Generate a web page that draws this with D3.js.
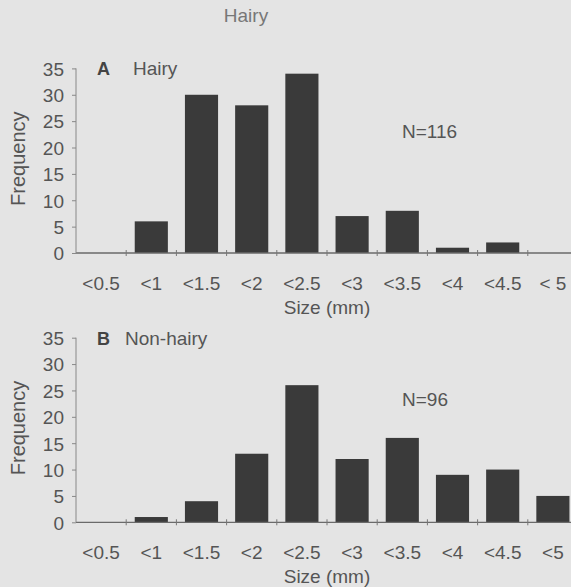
<!DOCTYPE html>
<html lang="en">
<head>
<meta charset="UTF-8">
<title>Hairy / Non-hairy size frequency</title>
<script src="https://d3js.org/d3.v7.min.js"></script>
<style>
  body { margin: 0; background: #e4e4e4; }
  svg { display: block; font-family: "Liberation Sans", Arial, sans-serif; }
  .tick-label { font-size: 19px; fill: #555; }
</style>
</head>
<body>
<div id="chart"></div>
<script>
// size classes (mm)
const sizeClasses = ["<0.5", "<1", "<1.5", "<2", "<2.5", "<3", "<3.5", "<4", "<4.5", "< 5"];
const sizeClassesB = ["<0.5", "<1", "<1.5", "<2", "<2.5", "<3", "<3.5", "<4", "<4.5", "<5"];
// frequencies
const hairyFreq = [0, 6, 30, 28, 34, 7, 8, 1, 2, 0];
const nonHairyFreq = [0, 1, 4, 13, 26, 12, 16, 9, 10, 5];
const yTicks = [0, 5, 10, 15, 20, 25, 30, 35];

const width = 571, height = 587;
const svg = d3.select("#chart").append("svg")
  .attr("width", width).attr("height", height);

svg.append("rect").attr("width", width).attr("height", height).attr("fill", "#e4e4e4");

// top title
svg.append("text")
  .attr("x", 246).attr("y", 22)
  .attr("text-anchor", "middle")
  .style("font-size", "19px").style("fill", "#777")
  .text("Hairy");

function drawPanel(cats, values, y0, letter, name, nText, nY) {
  const x = d3.scaleBand()
    .domain(cats)
    .range([76, 578])
    .paddingInner(0.34)
    .paddingOuter(0.17);
  const y = d3.scaleLinear().domain([0, 35]).range([y0, y0 - 184.6]);
  const g = svg.append("g");

  // bars
  g.selectAll("rect.bar")
    .data(values)
    .enter().append("rect")
    .attr("class", "bar")
    .attr("x", (d, i) => x(cats[i]))
    .attr("width", x.bandwidth())
    .attr("y", d => y(d))
    .attr("height", d => y(0) - y(d))
    .attr("fill", "#3a3a3a");

  // x axis line with boundary ticks
  g.append("line")
    .attr("x1", 76).attr("x2", 571)
    .attr("y1", y(0)).attr("y2", y(0))
    .attr("stroke", "#6a6a6a").attr("stroke-width", 1.3);
  const step = x.step();
  g.selectAll("line.xt")
    .data(d3.range(1, 10))
    .enter().append("line")
    .attr("class", "xt")
    .attr("x1", i => 76 + i * step).attr("x2", i => 76 + i * step)
    .attr("y1", y(0) - 3).attr("y2", y(0) + 3)
    .attr("stroke", "#777").attr("stroke-width", 1);

  // x labels
  g.selectAll("text.xl")
    .data(cats)
    .enter().append("text")
    .attr("class", "tick-label")
    .attr("x", d => x(d) + x.bandwidth() / 2)
    .attr("y", y(0) + 37)
    .attr("text-anchor", "middle")
    .text(d => d);

  // y axis
  const yAxis = d3.axisLeft(y).tickValues(yTicks).tickSize(4).tickPadding(8);
  const ya = g.append("g").attr("transform", "translate(76,0)").call(yAxis);
  ya.select(".domain").attr("stroke", "#888").attr("d", `M0,${y(0)}V${y(35)}`);
  ya.selectAll(".tick line").attr("stroke", "#888");
  ya.selectAll(".tick text")
    .attr("class", "tick-label")
    .attr("fill", null)
    .style("font-family", "Liberation Sans, Arial, sans-serif")
    .attr("dy", "0.36em");

  // y title
  g.append("text")
    .attr("transform", `translate(25,${y(17.5) - 2}) rotate(-90)`)
    .attr("text-anchor", "middle")
    .style("font-size", "20px").style("fill", "#555")
    .text("Frequency");

  // x title
  g.append("text")
    .attr("x", 327).attr("y", y(0) + 61)
    .attr("text-anchor", "middle")
    .style("font-size", "19px").style("fill", "#555")
    .text("Size (mm)");

  // panel label
  g.append("text")
    .attr("x", 97).attr("y", y(35) + 7)
    .style("font-size", "18px").style("font-weight", "bold").style("fill", "#444")
    .text(letter);
  g.append("text")
    .attr("x", letter === "A" ? 133 : 125).attr("y", y(35) + 7)
    .style("font-size", "19px").style("fill", "#555")
    .text(name);

  // N
  g.append("text")
    .attr("x", 402).attr("y", nY)
    .style("font-size", "19px").style("fill", "#555")
    .text(nText);
}

drawPanel(sizeClasses, hairyFreq, 253, "A", "Hairy", "N=116", 138);
drawPanel(sizeClassesB, nonHairyFreq, 522.3, "B", "Non-hairy", "N=96", 406);
</script>
</body>
</html>
